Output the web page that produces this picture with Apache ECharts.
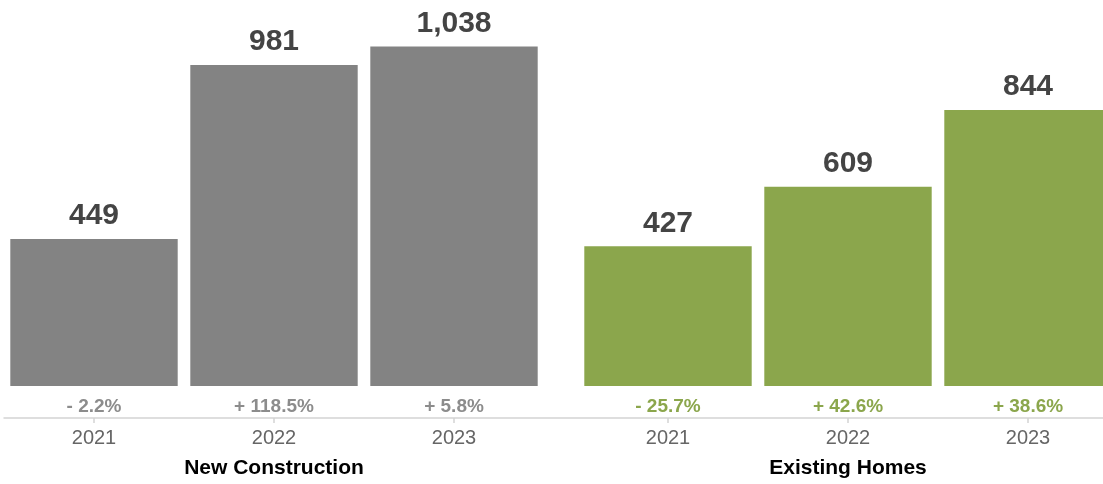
<!DOCTYPE html>
<html>
<head>
<meta charset="utf-8">
<script src="https://cdn.jsdelivr.net/npm/echarts@6/dist/echarts.min.js"></script>
<style>html,body{margin:0;padding:0;background:#fff}#c{width:1103px;height:484px}</style>
</head>
<body>
<div id="c"></div>
<script>
const years = ['2021', '2022', '2023'];
const groupNames = ['New Construction', 'Existing Homes'];
const newConstruction = [449, 981, 1038];
const existingHomes = [427, 609, 844];
const newConstructionChange = ['- 2.2%', '+ 118.5%', '+ 5.8%'];
const existingHomesChange = ['- 25.7%', '+ 42.6%', '+ 38.6%'];

const FONT = '"Liberation Sans", Arial, Helvetica, sans-serif';
const GRAY = '#838383';
const GREEN = '#8ba64c';

const chart = echarts.init(document.getElementById('c'));

function grid(left, width, bottom) {
  const g = { left, top: 0, bottom, outerBoundsMode: 'none', containLabel: false };
  if (width === null) g.right = 0; else g.width = width;
  return g;
}
function changeAxis(gridIndex, data, color) {
  return {
    type: 'category', gridIndex, data, position: 'bottom',
    axisLine: { show: false }, axisTick: { show: false },
    axisLabel: { color, fontSize: 19, fontWeight: 'bold', fontFamily: FONT, margin: 11 }
  };
}
function yearAxis(gridIndex, name) {
  return {
    type: 'category', gridIndex, data: years, position: 'bottom',
    axisLine: { show: false },
    axisTick: { show: true, alignWithLabel: true, length: 5, lineStyle: { color: '#d4d4d4', width: 1.5 } },
    axisLabel: { color: '#666', fontSize: 20, fontFamily: FONT, margin: 10 },
    name, nameLocation: 'middle', nameGap: 40,
    nameTextStyle: { color: '#000', fontSize: 21, fontWeight: 'bold', fontFamily: FONT }
  };
}
function valueAxis(gridIndex) {
  return { type: 'value', gridIndex, min: 0, max: 1180, show: false };
}
function barSeries(idx, data, color) {
  return {
    type: 'bar', xAxisIndex: idx, yAxisIndex: idx, data,
    barCategoryGap: '7%',
    itemStyle: { color },
    label: {
      show: true, position: 'top', distance: 8,
      color: '#444', fontSize: 30, fontWeight: 'bold', fontFamily: FONT,
      formatter: p => p.value.toLocaleString('en-US')
    },
    silent: true
  };
}

chart.setOption({
  animation: false,
  grid: [
    grid(4, 540, 98),     // bars: New Construction
    grid(578, 540, 98),   // bars: Existing Homes
    grid(4, 540, 66),     // years: New Construction
    grid(578, 540, 66),   // years: Existing Homes
    grid(4, null, 66)     // shared baseline
  ],
  xAxis: [
    changeAxis(0, newConstructionChange, '#8c8c8c'),
    changeAxis(1, existingHomesChange, GREEN),
    yearAxis(2, groupNames[0]),
    yearAxis(3, groupNames[1]),
    {
      type: 'category', gridIndex: 4, data: [''], position: 'bottom',
      axisLine: { show: true, lineStyle: { color: '#d4d4d4', width: 1.5 } },
      axisTick: { show: false }, axisLabel: { show: false }
    }
  ],
  yAxis: [valueAxis(0), valueAxis(1), valueAxis(2), valueAxis(3), valueAxis(4)],
  series: [
    barSeries(0, newConstruction, GRAY),
    barSeries(1, existingHomes, GREEN)
  ]
});
</script>
</body>
</html>
